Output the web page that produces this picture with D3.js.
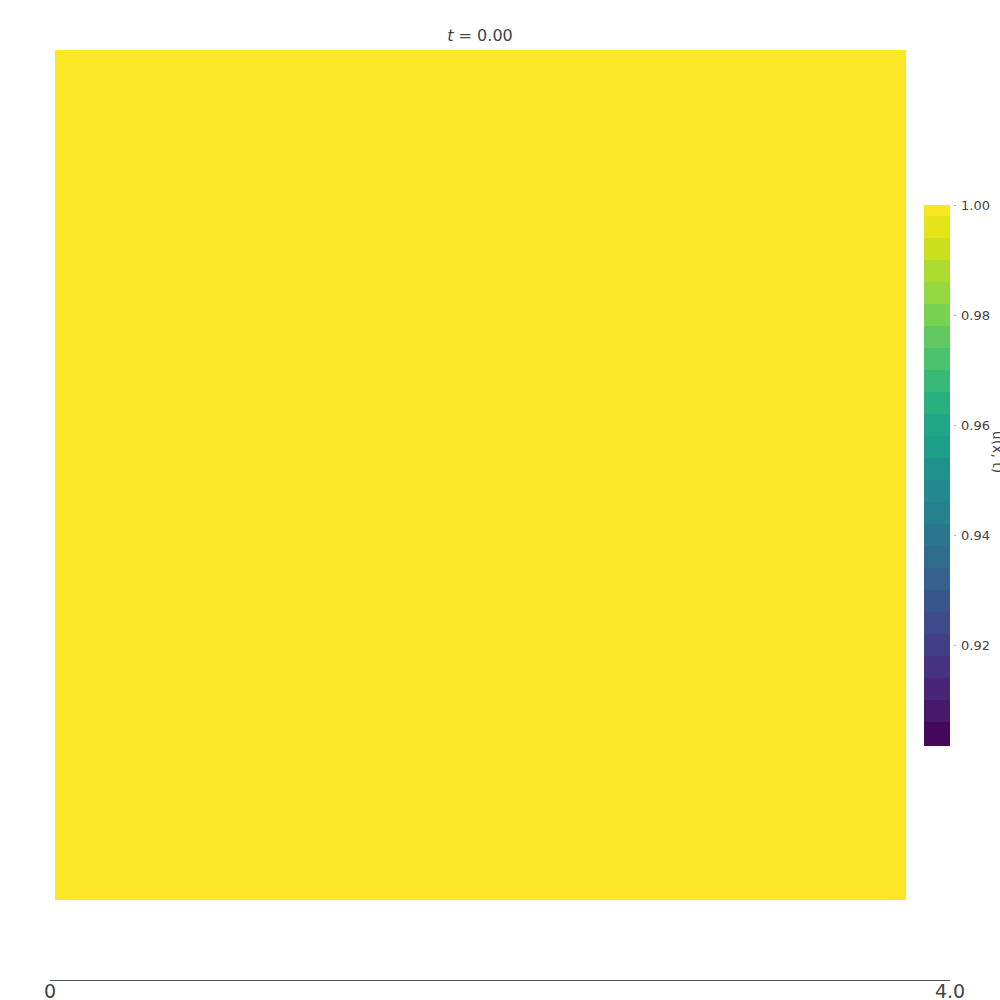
<html>

<head>
    <meta charset="UTF-8">
    <script src="https://d3js.org/d3.v7.min.js"></script>
    <style>
        body { margin: 0; background: #fff; }
        text { font-family: "DejaVu Sans", sans-serif; fill: #444; }
    </style>
</head>

<body>

</body>
<script>
    // data: field u(x,y) at t = 0 (uniform), colour levels, ticks
    var timeLabel = "0.00";
    var xCells = [0, 0.5, 1.0, 1.5, 2.0, 2.5, 3.0, 3.5];
    var yCells = [0, 0.5, 1.0, 1.5, 2.0, 2.5, 3.0, 3.5];
    var uRows = [
        [1, 1, 1, 1, 1, 1, 1, 1],
        [1, 1, 1, 1, 1, 1, 1, 1],
        [1, 1, 1, 1, 1, 1, 1, 1],
        [1, 1, 1, 1, 1, 1, 1, 1],
        [1, 1, 1, 1, 1, 1, 1, 1],
        [1, 1, 1, 1, 1, 1, 1, 1],
        [1, 1, 1, 1, 1, 1, 1, 1],
        [1, 1, 1, 1, 1, 1, 1, 1]
    ];
    var colorLevels = [0.9018, 0.906, 0.910, 0.914, 0.918, 0.922, 0.926, 0.930, 0.934, 0.938,
        0.942, 0.946, 0.950, 0.954, 0.958, 0.962, 0.966, 0.970, 0.974, 0.978,
        0.982, 0.986, 0.990, 0.994, 0.998, 1.000];
    var cbTicks = [0.92, 0.94, 0.96, 0.98, 1.00];
    var sliderTicks = [0, 4.0];
    var sliderLabels = ["0", "4.0"];

    var W = 1000, H = 1000;
    var svg = d3.select("body").append("svg")
        .attr("width", W).attr("height", H);

    // heatmap area
    var plot = { left: 55, top: 50, width: 850, height: 849 };
    var x = d3.scaleBand().domain(xCells).range([plot.left, plot.left + plot.width]).paddingInner(0);
    var y = d3.scaleBand().domain(yCells).range([plot.top + plot.height, plot.top]).paddingInner(0);

    var uMin = colorLevels[0], uMax = colorLevels[colorLevels.length - 1];
    var color = d3.scaleSequential(d3.interpolateViridis).domain([uMin, uMax]);

    var cells = [];
    uRows.forEach(function (row, j) {
        row.forEach(function (v, i) {
            cells.push({ x: xCells[i], y: yCells[j], v: v });
        });
    });

    svg.append("g").selectAll("rect")
        .data(cells).enter()
        .append("rect")
        .attr("x", function (d) { return x(d.x); })
        .attr("y", function (d) { return y(d.y); })
        .attr("width", x.bandwidth() + 0.5)
        .attr("height", y.bandwidth() + 0.5)
        .attr("fill", function (d) { return color(d.v); })
        .attr("shape-rendering", "crispEdges");

    // title
    var title = svg.append("text")
        .attr("x", 480).attr("y", 41)
        .attr("text-anchor", "middle")
        .style("font-size", "16px");
    title.append("tspan").style("font-style", "italic").text("t");
    title.append("tspan").text(" = " + timeLabel);

    // colorbar
    var cb = { left: 924, width: 26, top: 205, bottom: 745 };
    var cy = d3.scaleLinear().domain([uMin, uMax]).range([cb.bottom, cb.top]);
    var bands = d3.pairs(colorLevels);
    svg.append("g").selectAll("rect")
        .data(bands).enter()
        .append("rect")
        .attr("x", cb.left)
        .attr("width", cb.width)
        .attr("y", function (d) { return cy(d[1]); })
        .attr("height", function (d) { return cy(d[0]) - cy(d[1]) + 0.5; })
        .attr("fill", function (d) { return color((d[0] + d[1]) / 2); })
        .attr("shape-rendering", "crispEdges");

    var cbAxis = svg.append("g")
        .attr("transform", "translate(" + (cb.left + cb.width + 4) + ",0)")
        .call(d3.axisRight(cy).tickValues(cbTicks).tickFormat(d3.format(".2f")).tickSize(2).tickPadding(5));
    cbAxis.select(".domain").remove();
    cbAxis.selectAll("line").attr("stroke", "#aaa");
    cbAxis.selectAll("text").style("font-size", "13px").style("fill", "#444");

    svg.append("text")
        .attr("transform", "translate(993,452) rotate(90)")
        .attr("text-anchor", "middle")
        .style("font-size", "14px")
        .text("u(x, t)");

    // time slider axis at bottom
    var sx = d3.scaleLinear().domain([0, 4.0]).range([50, 950]);
    svg.append("line")
        .attr("x1", sx(0)).attr("x2", sx(4.0))
        .attr("y1", 980.5).attr("y2", 980.5)
        .attr("stroke", "#555").attr("stroke-width", 1);
    svg.append("g").selectAll("text")
        .data(sliderTicks).enter()
        .append("text")
        .attr("x", function (d) { return sx(d); })
        .attr("y", 998)
        .attr("text-anchor", "middle")
        .style("font-size", "19px")
        .text(function (d, i) { return sliderLabels[i]; });
</script>

</html>
